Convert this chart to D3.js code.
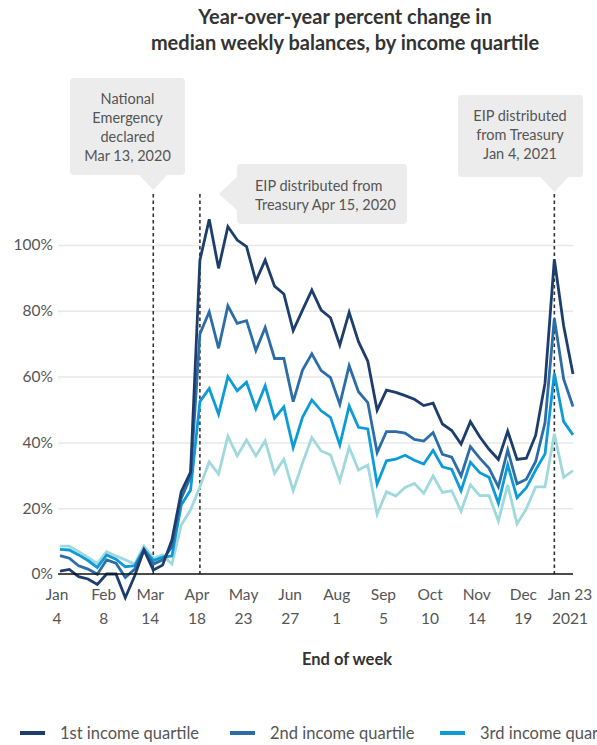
<!DOCTYPE html>
<html>
<head>
<meta charset="utf-8">
<script src="https://cdn.jsdelivr.net/npm/d3@7"></script>
<style>
  html, body { margin: 0; padding: 0; background: #ffffff; }
  svg { display: block; font-family: Lato, "Open Sans", sans-serif; }
</style>
</head>
<body>
<svg id="chart" width="597" height="745"></svg>
<script>
// Weekly series, week ending Jan 4, 2020 through Jan 23, 2021 (56 weeks)
const quartileNames = ["1st income quartile", "2nd income quartile", "3rd income quartile", "4th income quartile"];
const quartileColors = ["#1d3d6d", "#2c6da8", "#0c9bd8", "#a0d9dd"];

const q1 = [0.9, 1.4, -0.8, -1.5, -3.2, 0, 0, -7.2, -0.6, 7.3, 1.2, 2.7, 10.3, 25, 31, 95.4,
  107.8, 92.9, 105.6, 101.5, 99.5, 89, 95.4, 87.5, 85.1, 74, 80.2, 86.3, 80.2, 77.9, 69.6, 79.5,
  70.6, 64.7, 49.8, 55.9, 55.2, 54.2, 53.1, 51.2, 51.9, 45.6, 43.6, 39.5, 46.3, 41.7, 37.9, 34.8,
  43.4, 34.8, 35.2, 42.2, 58, 95.6, 75.4, 60.8];
const q2 = [5.6, 4.8, 2.5, 1.5, -0.1, 4.3, 3.3, -1.0, 1.4, 7.3, 3.0, 4.3, 8.3, 23, 29.6, 73,
  79.7, 68.6, 81.5, 76.2, 77, 67.9, 74.9, 65.5, 65.5, 52.4, 62, 66.9, 61.8, 59.7, 51.6, 63.3,
  55.4, 52.1, 36.9, 43.3, 43.3, 42.8, 40.9, 40.4, 43, 36.4, 35.5, 29.8, 38.7, 35.2, 32.1, 26.5,
  37.7, 27.4, 28.8, 34.2, 46, 77.7, 59.2, 50.9];
const q3 = [7.5, 7.3, 5.8, 4.1, 2, 5.8, 4.5, 2.2, 2.5, 7.5, 4.1, 5.1, 5.5, 21, 25.5, 52.4,
  56.4, 48.6, 60, 55.7, 58.3, 50.2, 57.2, 47.3, 50.8, 38.4, 47.6, 52.9, 49.6, 47.6, 39.2, 51.1,
  44.6, 44.1, 27.3, 34.4, 34.9, 36.1, 34.6, 33.4, 37.6, 32.6, 31.8, 25.3, 34, 30.8, 29.4, 21.5,
  33.2, 23.2, 26.2, 31.6, 36.5, 61, 46.3, 42.3];
const q4 = [8.5, 8.5, 6.8, 5.0, 3.2, 6.8, 5.5, 4.3, 3.0, 8.5, 4.8, 5.8, 3, 14.9, 19.5, 26.5,
  34.1, 30.4, 41.9, 35.9, 40.7, 35.9, 40.5, 30.6, 34.9, 25.3, 33.7, 41.5, 37.4, 36.2, 28.3, 38.5,
  31.6, 33.1, 18.1, 25, 23.7, 26.3, 27.5, 24.5, 29.8, 24.8, 25.3, 19.1, 27.1, 23.8, 23.8, 16.1,
  27.1, 15.2, 19.8, 26.5, 26.5, 42.6, 29.4, 31.4];

// Axis ticks: every fifth week
const tickWeeks = [0, 5, 10, 15, 20, 25, 30, 35, 40, 45, 50, 55];
const tickMonths = ["Jan", "Feb", "Mar", "Apr", "May", "Jun", "Aug", "Sep", "Oct", "Nov", "Dec", "Jan 23"];
const tickDays = ["4", "8", "14", "18", "23", "27", "1", "5", "10", "14", "19", "2021"];
const yTicks = [0, 20, 40, 60, 80, 100];

// Event markers (week index) and their callout text
const eventWeeks = [10, 15, 53];
const eventTexts = [
  ["National", "Emergency", "declared", "Mar 13, 2020"],
  ["EIP distributed from", "Treasury Apr 15, 2020"],
  ["EIP distributed", "from Treasury", "Jan 4, 2021"]
];

const series = [q1, q2, q3, q4];

const svg = d3.select("#chart");
const left = 58, right = 573;

const x = d3.scaleLinear().domain([0, 55]).range([60, 573]);
const y = d3.scaleLinear().domain([0, 100]).range([574, 245]);

// Title
svg.append("text")
  .attr("x", 345).attr("y", 24)
  .attr("text-anchor", "middle")
  .attr("font-size", 20).attr("font-weight", 700).attr("fill", "#333")
  .selectAll("tspan")
  .data(["Year-over-year percent change in", "median weekly balances, by income quartile"])
  .join("tspan")
  .attr("x", 345).attr("dy", (d, i) => i === 0 ? 0 : 26)
  .text(d => d);

// Gridlines and y labels
const yAxis = d3.axisLeft(y)
  .tickValues(yTicks)
  .tickSize(-(right - left))
  .tickPadding(5)
  .tickFormat(d => d + "%");
const gy = svg.append("g").attr("transform", `translate(${left},0)`).call(yAxis);
gy.select(".domain").remove();
gy.selectAll(".tick line").attr("stroke", "#e8e8e8").attr("stroke-width", 1.5);
gy.selectAll(".tick text")
  .attr("font-family", "Lato, sans-serif")
  .attr("font-size", 15.5).attr("fill", "#555");
gy.selectAll(".tick").filter(d => d === 0).select("line").remove();

// Event dashed lines
svg.append("g").selectAll("line")
  .data(eventWeeks)
  .join("line")
  .attr("x1", d => x(d)).attr("x2", d => x(d))
  .attr("y1", 194).attr("y2", y(0))
  .attr("stroke", "#333").attr("stroke-width", 1.6)
  .attr("stroke-dasharray", "3.5,3");

// Lines, lightest first so the 1st quartile sits on top
const line = d3.line().x((d, i) => x(i)).y(d => y(d));
svg.append("g").selectAll("path")
  .data(series.map((s, i) => ({ s, i })).reverse())
  .join("path")
  .attr("d", d => line(d.s))
  .attr("fill", "none")
  .attr("stroke", d => quartileColors[d.i])
  .attr("stroke-width", 2.8)
  .attr("stroke-linejoin", "miter");

// Baseline
svg.append("line")
  .attr("x1", left).attr("x2", right)
  .attr("y1", y(0)).attr("y2", y(0))
  .attr("stroke", "#111").attr("stroke-width", 1.5);

// X axis labels
const gx = svg.append("g").attr("font-size", 15.5).attr("fill", "#555").attr("text-anchor", "middle");
gx.selectAll("text.month")
  .data(tickWeeks)
  .join("text")
  .attr("class", "month")
  .attr("x", d => x(d) - 3).attr("y", 600)
  .text((d, i) => tickMonths[i]);
gx.selectAll("text.day")
  .data(tickWeeks)
  .join("text")
  .attr("class", "day")
  .attr("x", d => x(d) - 3).attr("y", 624)
  .text((d, i) => tickDays[i]);

svg.append("text")
  .attr("x", 347).attr("y", 665)
  .attr("text-anchor", "middle")
  .attr("font-size", 16.5).attr("font-weight", 700).attr("fill", "#333")
  .text("End of week");

// Callouts
const calloutFill = "#ececec";
function textBlock(g, lines, cx, y0, anchor) {
  g.append("text")
    .attr("font-size", 14.5).attr("fill", "#555").attr("text-anchor", anchor)
    .selectAll("tspan")
    .data(lines).join("tspan")
    .attr("x", cx).attr("y", (d, i) => y0 + i * 19)
    .text(d => d);
}

// National emergency (pointer down)
{
  const g = svg.append("g");
  const px = x(eventWeeks[0]);
  g.append("rect").attr("x", 70).attr("y", 78).attr("width", 115).attr("height", 97).attr("rx", 4).attr("fill", calloutFill);
  g.append("path").attr("d", `M${px - 15},174 L${px},190 L${px + 15},174 Z`).attr("fill", calloutFill);
  textBlock(g, eventTexts[0], 127.5, 104, "middle");
}
// EIP April (pointer left)
{
  const g = svg.append("g");
  const px = x(eventWeeks[1]);
  g.append("rect").attr("x", 237).attr("y", 164).attr("width", 170).attr("height", 60).attr("rx", 4).attr("fill", calloutFill);
  g.append("path").attr("d", `M238,176 L${px + 19},194 L238,211 Z`).attr("fill", calloutFill);
  textBlock(g, eventTexts[1], 255, 191, "start");
}
// EIP January (pointer down)
{
  const g = svg.append("g");
  const px = x(eventWeeks[2]);
  g.append("rect").attr("x", 458).attr("y", 95).attr("width", 125).attr("height", 82).attr("rx", 4).attr("fill", calloutFill);
  g.append("path").attr("d", `M${px - 15},176 L${px},192 L${px + 15},176 Z`).attr("fill", calloutFill);
  textBlock(g, eventTexts[2], 520, 121, "middle");
}

// Legend (runs past the right edge)
const legend = svg.append("g").attr("transform", "translate(20,733)");
const item = legend.selectAll("g")
  .data(quartileNames)
  .join("g")
  .attr("transform", (d, i) => `translate(${i * 210},0)`);
item.append("line")
  .attr("x1", 0).attr("x2", 25).attr("y1", 0).attr("y2", 0)
  .attr("stroke", (d, i) => quartileColors[i]).attr("stroke-width", 4);
item.append("text")
  .attr("x", 40).attr("y", 5.5)
  .attr("font-size", 16.5).attr("fill", "#555")
  .text(d => d);
</script>
</body>
</html>
